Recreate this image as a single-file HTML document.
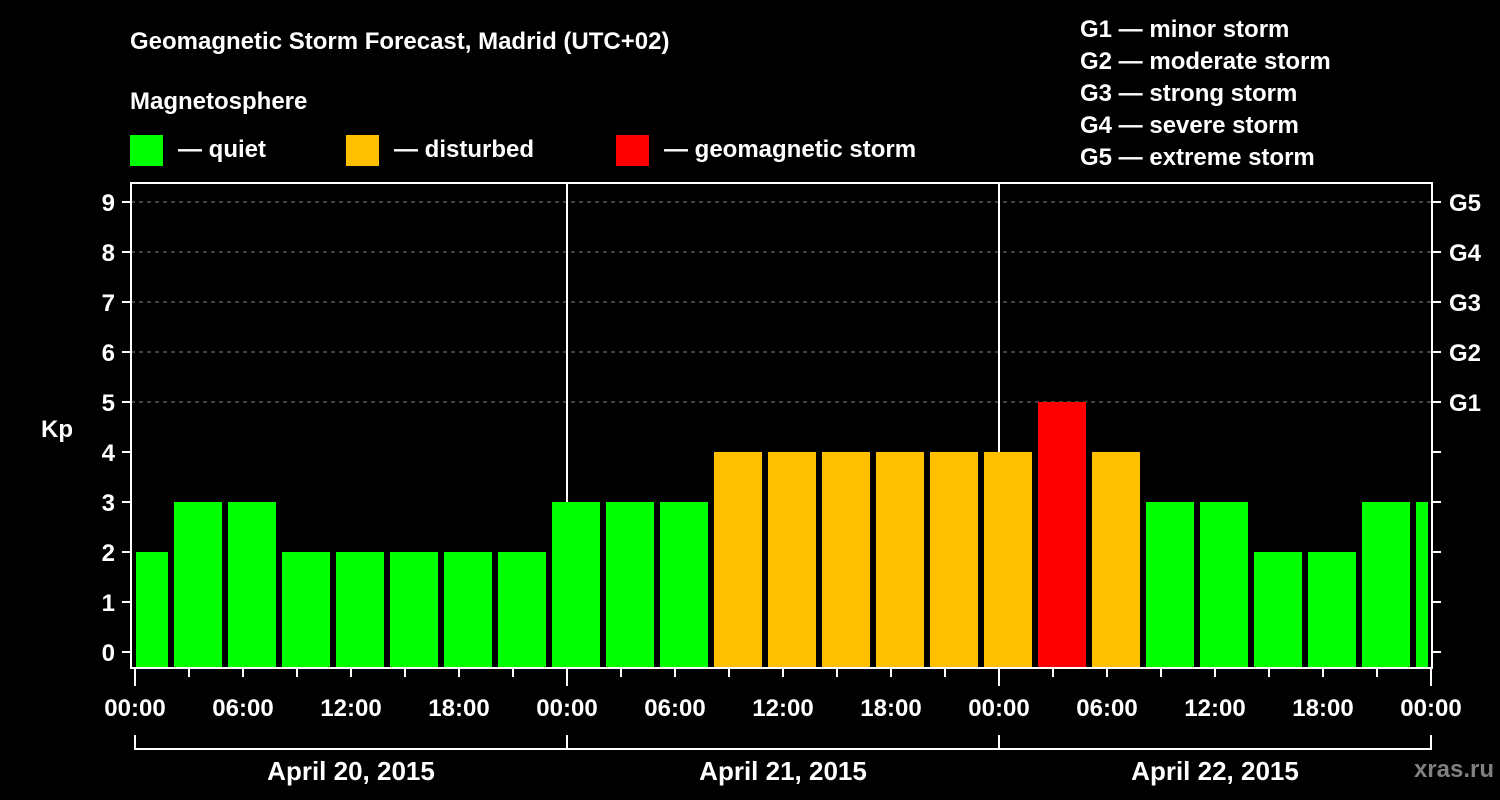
<!DOCTYPE html>
<html><head><meta charset="utf-8"><style>
html,body{margin:0;padding:0;background:#000;width:1500px;height:800px;overflow:hidden}
svg text{font-family:"Liberation Sans",Arial,sans-serif;font-weight:bold;fill:#fff}
</style></head><body>
<svg id="chart" width="1500" height="800" xmlns="http://www.w3.org/2000/svg">
<rect width="1500" height="800" fill="#000"/>
<text x="130" y="49" font-size="24">Geomagnetic Storm Forecast, Madrid (UTC+02)</text>
<text x="130" y="109" font-size="24">Magnetosphere</text>
<g><rect x="130" y="135" width="33" height="31" fill="#00ff00"/><text x="178" y="157" font-size="24">— quiet</text></g>
<g><rect x="346" y="135" width="33" height="31" fill="#ffc000"/><text x="394" y="157" font-size="24">— disturbed</text></g>
<g><rect x="616" y="135" width="33" height="31" fill="#ff0000"/><text x="664" y="157" font-size="24">— geomagnetic storm</text></g>
<g font-size="24">
<text x="1080" y="37">G1 — minor storm</text>
<text x="1080" y="69">G2 — moderate storm</text>
<text x="1080" y="101">G3 — strong storm</text>
<text x="1080" y="133">G4 — severe storm</text>
<text x="1080" y="165">G5 — extreme storm</text>
</g>
<text x="41" y="437" font-size="24">Kp</text>
<text x="1494" y="777" font-size="24" text-anchor="end" style="fill:#808080">xras.ru</text>
<g id="grid"></g><g id="bars"></g><g id="axes"></g>
</svg>
<script>
const startHours = [-1,2,5,8,11,14,17,20,23,26,29,32,35,38,41,44,47,50,53,56,59,62,65,68,71];
const kpValues = [2,3,3,2,2,2,2,2,3,3,3,4,4,4,4,4,4,5,4,3,3,2,2,3,3];
const yTicks = [0,1,2,3,4,5,6,7,8,9];
const gLabels = ["G1","G2","G3","G4","G5"];
const gLevels = [5,6,7,8,9];
const xTickLabels = ["00:00","06:00","12:00","18:00","00:00","06:00","12:00","18:00","00:00","06:00","12:00","18:00","00:00"];
const dayLabels = ["April 20, 2015","April 21, 2015","April 22, 2015"];
const X0=135, PXH=18, Y0=652, PXK=50, L=131, R=1432, T=183, B=668;
const xs = h => X0 + h*PXH;
const ys = k => Y0 - k*PXK;
const NS="http://www.w3.org/2000/svg";
function mk(tag, attrs, parent){const e=document.createElementNS(NS,tag);for(const k in attrs)e.setAttribute(k,attrs[k]);document.getElementById(parent).appendChild(e);return e;}
// grid
gLevels.forEach(k=>{const e=mk('line',{x1:L,x2:R,y1:ys(k),y2:ys(k),stroke:'#808080','stroke-width':1,'stroke-dasharray':'4,4'},'grid');

});
[24,48].forEach(h=>{const e=mk('line',{x1:xs(h),x2:xs(h),y1:T,y2:B,stroke:'#fff','stroke-width':2},'grid');

});
// bars
startHours.forEach((h,i)=>{const k=kpValues[i];
let x1=Math.max(xs(h)+3,X0+1), x2=Math.min(xs(h+3)-3,1428);
const c=k>=5?'#ff0000':(k>=4?'#ffc000':'#00ff00');
const e=mk('rect',{x:x1,y:ys(k),width:x2-x1,height:B-1-ys(k),fill:c},'bars');

});
// axes frame
const fr=mk('rect',{x:L,y:T,width:R-L,height:B-T,fill:'none',stroke:'#fff','stroke-width':2},'axes');


yTicks.forEach(k=>{mk('line',{x1:122,x2:L,y1:ys(k),y2:ys(k),stroke:'#fff','stroke-width':2},'axes');
mk('line',{x1:R,x2:R+9,y1:ys(k),y2:ys(k),stroke:'#fff','stroke-width':2},'axes');
const t=mk('text',{x:115,y:ys(k)+9,'font-size':24,'text-anchor':'end'},'axes');t.textContent=k;

});
gLabels.forEach((g,i)=>{const t=mk('text',{x:1449,y:ys(gLevels[i])+9,'font-size':24},'axes');t.textContent=g;

});
for(let h=0;h<=72;h+=3){const long=h%24===0;mk('line',{x1:xs(h),x2:xs(h),y1:B,y2:long?686:677,stroke:'#fff','stroke-width':2},'axes');}
xTickLabels.forEach((s,i)=>{const t=mk('text',{x:xs(i*6),y:716,'font-size':24,'text-anchor':'middle'},'axes');t.textContent=s;

});
mk('path',{d:`M${xs(0)},735V749H${xs(72)}V735M${xs(24)},735V749M${xs(48)},735V749`,fill:'none',stroke:'#fff','stroke-width':2},'axes');
dayLabels.forEach((s,i)=>{const t=mk('text',{x:xs(i*24+12),y:780,'font-size':26,'text-anchor':'middle'},'axes');t.textContent=s;

});
</script>
</body></html>
